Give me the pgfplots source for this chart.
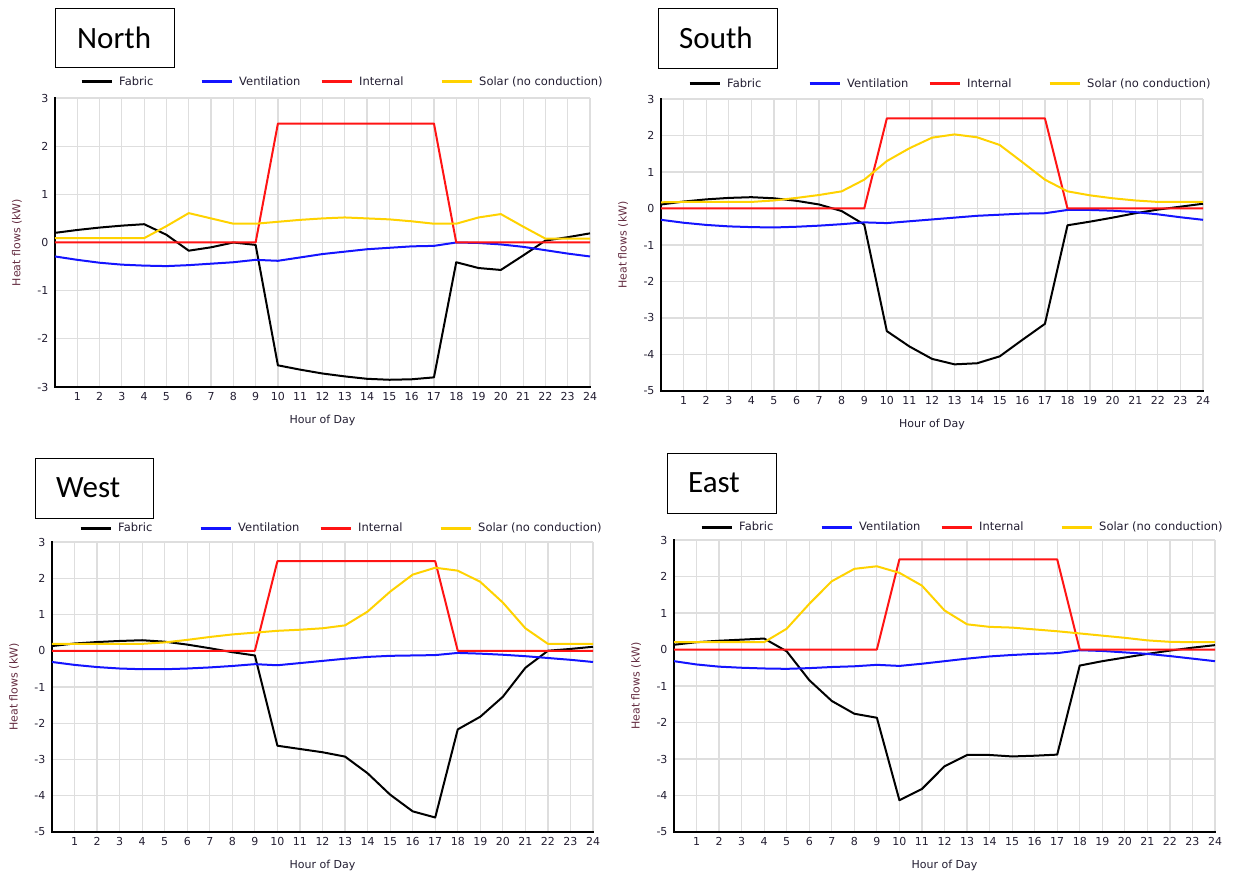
\documentclass[border=0pt]{standalone}
\usepackage{pgfplots}
\pgfplotsset{compat=1.18}
\usepackage{fontspec}
\setmainfont{DejaVu Sans}
\newfontfamily\titlefont{Carlito}
\definecolor{cFab}{RGB}{0,0,0}
\definecolor{cVen}{RGB}{20,20,255}
\definecolor{cInt}{RGB}{255,20,20}
\definecolor{cSol}{RGB}{255,210,0}
\definecolor{gridc}{RGB}{222,222,222}
\definecolor{txt}{RGB}{35,30,50}
\definecolor{ylab}{RGB}{100,45,65}
\newcommand\lent[1]{\hspace*{6pt}\makebox[81pt][l]{#1}}
\pgfplotsset{
  panel/.style={
    scale only axis,
    xmin=0, xmax=24,
    xtick={1,...,24},
    grid=major,
    grid style={draw=gridc, line width=1.2pt},
    axis x line*=bottom, axis y line*=left,
    axis line style={line width=2.6pt, black, line cap=rect},
    tick style={draw=none},
    /pgf/number format/assume math mode=true,
    tick label style={font=\fontsize{11}{13}\selectfont, text=txt},
    x tick label style={yshift=-2pt},
    y tick label style={xshift=-3pt},
    xlabel={Hour of Day}, ylabel={Heat flows (kW)},
    xlabel style={at={(axis description cs:0.5,0)}, anchor=center, yshift=-33pt, font=\fontsize{11}{13}\selectfont, text=txt},
    ylabel style={anchor=center, font=\fontsize{11}{13}\selectfont, text=ylab},
    legend columns=4,
    legend cell align=left,
    legend image code/.code={\draw[#1, line width=3pt] (0pt,0pt) -- (30pt,0pt);},
    legend style={at={(0,1)}, anchor=west, draw=none, fill=none, inner sep=0pt,
       column sep=0pt, font=\fontsize{11.5}{13}\selectfont, text=txt,
       nodes={inner sep=0pt}},
    every axis plot/.append style={line width=2pt},
  },
  pFab/.style={cFab, line join=round},
  pVen/.style={cVen, line join=round},
  pInt/.style={cInt, line join=round},
  pSol/.style={cSol, line join=round},
}
\begin{document}
\begin{tikzpicture}
\path[use as bounding box] (0,0) rectangle (1234pt,-877pt);

% ---------------- North ----------------
\node[draw, line width=1.2pt, anchor=north west, minimum width=119pt, minimum height=59pt, inner sep=0pt] at (55pt,-8pt) {};
\node[anchor=west, inner sep=0pt, font=\titlefont\fontsize{31}{36}\selectfont] at (77pt,-37.5pt) {North};
\begin{axis}[panel, at={(55pt,-98pt)}, anchor=north west, width=535pt, height=289pt,
  ymin=-3, ymax=3, ytick={-3,...,3}, yticklabels={-3,-2,-1,0,1,2,3},
  ylabel style={at={(axis description cs:-0.071,0.5)}},
  legend style={xshift=25pt, yshift=16pt}]
\addplot[pFab] coordinates {(0,0.2) (1,0.26) (2,0.31) (3,0.35) (4,0.38) (5,0.16) (6,-0.17) (7,-0.1) (8,0.0) (9,-0.05) (10,-2.55) (11,-2.64) (12,-2.72) (13,-2.78) (14,-2.83) (15,-2.85) (16,-2.84) (17,-2.8) (18,-0.41) (19,-0.53) (20,-0.57) (21,-0.27) (22,0.04) (23,0.11) (24,0.19)};
\addlegendentry{\lent{Fabric}}
\addplot[pVen] coordinates {(0,-0.29) (1,-0.36) (2,-0.42) (3,-0.46) (4,-0.48) (5,-0.49) (6,-0.47) (7,-0.44) (8,-0.41) (9,-0.36) (10,-0.38) (11,-0.31) (12,-0.24) (13,-0.19) (14,-0.14) (15,-0.11) (16,-0.08) (17,-0.07) (18,0.0) (19,-0.01) (20,-0.04) (21,-0.09) (22,-0.16) (23,-0.23) (24,-0.29)};
\addlegendentry{\lent{Ventilation}}
\addplot[pInt] coordinates {(0,0) (1,0) (2,0) (3,0) (4,0) (5,0) (6,0) (7,0) (8,0) (9,0) (10,2.47) (11,2.47) (12,2.47) (13,2.47) (14,2.47) (15,2.47) (16,2.47) (17,2.47) (18,0) (19,0) (20,0) (21,0) (22,0) (23,0) (24,0)};
\addlegendentry{\lent{Internal}}
\addplot[pSol] coordinates {(0,0.09) (1,0.09) (2,0.09) (3,0.09) (4,0.09) (5,0.34) (6,0.61) (7,0.5) (8,0.39) (9,0.39) (10,0.43) (11,0.47) (12,0.5) (13,0.52) (14,0.5) (15,0.48) (16,0.44) (17,0.39) (18,0.39) (19,0.52) (20,0.59) (21,0.33) (22,0.08) (23,0.08) (24,0.08)};
\addlegendentry{\lent{Solar (no conduction)}}
\end{axis}

% ---------------- South ----------------
\node[draw, line width=1.2pt, anchor=north west, minimum width=119pt, minimum height=60pt, inner sep=0pt] at (658pt,-8pt) {};
\node[anchor=west, inner sep=0pt, font=\titlefont\fontsize{31}{36}\selectfont] at (679pt,-38pt) {South};
\begin{axis}[panel, at={(661pt,-99pt)}, anchor=north west, width=542pt, height=292pt,
  ymin=-5, ymax=3, ytick={-5,...,3}, yticklabels={-5,-4,-3,-2,-1,0,1,2,3},
  ylabel style={at={(axis description cs:-0.07,0.5)}},
  legend style={xshift=27pt, yshift=15pt}]
\addplot[pFab] coordinates {(0,0.11) (1,0.19) (2,0.25) (3,0.29) (4,0.31) (5,0.28) (6,0.21) (7,0.11) (8,-0.07) (9,-0.44) (10,-3.36) (11,-3.78) (12,-4.12) (13,-4.27) (14,-4.24) (15,-4.05) (16,-3.6) (17,-3.16) (18,-0.46) (19,-0.36) (20,-0.25) (21,-0.13) (22,-0.03) (23,0.05) (24,0.13)};
\addlegendentry{\lent{Fabric}}
\addplot[pVen] coordinates {(0,-0.31) (1,-0.39) (2,-0.45) (3,-0.49) (4,-0.51) (5,-0.52) (6,-0.5) (7,-0.47) (8,-0.43) (9,-0.38) (10,-0.4) (11,-0.35) (12,-0.3) (13,-0.25) (14,-0.2) (15,-0.17) (16,-0.14) (17,-0.13) (18,-0.04) (19,-0.04) (20,-0.06) (21,-0.1) (22,-0.16) (23,-0.24) (24,-0.31)};
\addlegendentry{\lent{Ventilation}}
\addplot[pInt] coordinates {(0,0) (1,0) (2,0) (3,0) (4,0) (5,0) (6,0) (7,0) (8,0) (9,0) (10,2.47) (11,2.47) (12,2.47) (13,2.47) (14,2.47) (15,2.47) (16,2.47) (17,2.47) (18,0) (19,0) (20,0) (21,0) (22,0) (23,0) (24,0)};
\addlegendentry{\lent{Internal}}
\addplot[pSol] coordinates {(0,0.17) (1,0.18) (2,0.18) (3,0.18) (4,0.18) (5,0.22) (6,0.29) (7,0.37) (8,0.47) (9,0.79) (10,1.3) (11,1.65) (12,1.94) (13,2.03) (14,1.95) (15,1.74) (16,1.27) (17,0.79) (18,0.47) (19,0.36) (20,0.28) (21,0.22) (22,0.18) (23,0.18) (24,0.18)};
\addlegendentry{\lent{Solar (no conduction)}}
\end{axis}

% ---------------- West ----------------
\node[draw, line width=1.2pt, anchor=north west, minimum width=118pt, minimum height=60pt, inner sep=0pt] at (35pt,-458pt) {};
\node[anchor=west, inner sep=0pt, font=\titlefont\fontsize{31}{36}\selectfont] at (56pt,-488pt) {West};
\begin{axis}[panel, at={(52pt,-542pt)}, anchor=north west, width=541pt, height=290pt,
  ymin=-5, ymax=3, ytick={-5,...,3}, yticklabels={-5,-4,-3,-2,-1,0,1,2,3},
  ylabel style={at={(axis description cs:-0.07,0.5)}},
  legend style={xshift=27pt, yshift=14pt}]
\addplot[pFab] coordinates {(0,0.13) (1,0.2) (2,0.24) (3,0.27) (4,0.29) (5,0.25) (6,0.17) (7,0.07) (8,-0.04) (9,-0.13) (10,-2.62) (11,-2.71) (12,-2.8) (13,-2.92) (14,-3.38) (15,-3.97) (16,-4.43) (17,-4.6) (18,-2.17) (19,-1.82) (20,-1.27) (21,-0.47) (22,0.0) (23,0.05) (24,0.11)};
\addlegendentry{\lent{Fabric}}
\addplot[pVen] coordinates {(0,-0.31) (1,-0.39) (2,-0.45) (3,-0.49) (4,-0.51) (5,-0.51) (6,-0.49) (7,-0.46) (8,-0.42) (9,-0.37) (10,-0.4) (11,-0.34) (12,-0.28) (13,-0.22) (14,-0.17) (15,-0.14) (16,-0.13) (17,-0.12) (18,-0.06) (19,-0.08) (20,-0.11) (21,-0.15) (22,-0.2) (23,-0.25) (24,-0.31)};
\addlegendentry{\lent{Ventilation}}
\addplot[pInt] coordinates {(0,0) (1,0) (2,0) (3,0) (4,0) (5,0) (6,0) (7,0) (8,0) (9,0) (10,2.47) (11,2.47) (12,2.47) (13,2.47) (14,2.47) (15,2.47) (16,2.47) (17,2.47) (18,0) (19,0) (20,0) (21,0) (22,0) (23,0) (24,0)};
\addlegendentry{\lent{Internal}}
\addplot[pSol] coordinates {(0,0.19) (1,0.19) (2,0.19) (3,0.19) (4,0.19) (5,0.23) (6,0.3) (7,0.38) (8,0.45) (9,0.5) (10,0.55) (11,0.58) (12,0.62) (13,0.7) (14,1.08) (15,1.63) (16,2.1) (17,2.29) (18,2.21) (19,1.9) (20,1.33) (21,0.62) (22,0.19) (23,0.19) (24,0.19)};
\addlegendentry{\lent{Solar (no conduction)}}
\end{axis}

% ---------------- East ----------------
\node[draw, line width=1.2pt, anchor=north west, minimum width=109pt, minimum height=60pt, inner sep=0pt] at (667pt,-453pt) {};
\node[anchor=west, inner sep=0pt, font=\titlefont\fontsize{31}{36}\selectfont] at (688pt,-483pt) {East};
\begin{axis}[panel, at={(674pt,-540pt)}, anchor=north west, width=541pt, height=292pt,
  ymin=-5, ymax=3, ytick={-5,...,3}, yticklabels={-5,-4,-3,-2,-1,0,1,2,3},
  ylabel style={at={(axis description cs:-0.07,0.5)}},
  legend style={xshift=26pt, yshift=13pt}]
\addplot[pFab] coordinates {(0,0.13) (1,0.2) (2,0.24) (3,0.27) (4,0.3) (5,-0.05) (6,-0.84) (7,-1.41) (8,-1.76) (9,-1.87) (10,-4.13) (11,-3.82) (12,-3.2) (13,-2.89) (14,-2.89) (15,-2.93) (16,-2.91) (17,-2.88) (18,-0.44) (19,-0.32) (20,-0.22) (21,-0.12) (22,-0.03) (23,0.05) (24,0.12)};
\addlegendentry{\lent{Fabric}}
\addplot[pVen] coordinates {(0,-0.32) (1,-0.41) (2,-0.47) (3,-0.5) (4,-0.52) (5,-0.53) (6,-0.51) (7,-0.48) (8,-0.46) (9,-0.42) (10,-0.45) (11,-0.39) (12,-0.32) (13,-0.25) (14,-0.19) (15,-0.15) (16,-0.12) (17,-0.1) (18,-0.02) (19,-0.04) (20,-0.08) (21,-0.12) (22,-0.18) (23,-0.25) (24,-0.32)};
\addlegendentry{\lent{Ventilation}}
\addplot[pInt] coordinates {(0,0) (1,0) (2,0) (3,0) (4,0) (5,0) (6,0) (7,0) (8,0) (9,0) (10,2.47) (11,2.47) (12,2.47) (13,2.47) (14,2.47) (15,2.47) (16,2.47) (17,2.47) (18,0) (19,0) (20,0) (21,0) (22,0) (23,0) (24,0)};
\addlegendentry{\lent{Internal}}
\addplot[pSol] coordinates {(0,0.2) (1,0.2) (2,0.2) (3,0.2) (4,0.2) (5,0.57) (6,1.25) (7,1.87) (8,2.21) (9,2.28) (10,2.1) (11,1.75) (12,1.07) (13,0.69) (14,0.62) (15,0.6) (16,0.55) (17,0.5) (18,0.44) (19,0.38) (20,0.32) (21,0.25) (22,0.21) (23,0.2) (24,0.2)};
\addlegendentry{\lent{Solar (no conduction)}}
\end{axis}
\end{tikzpicture}
\end{document}
